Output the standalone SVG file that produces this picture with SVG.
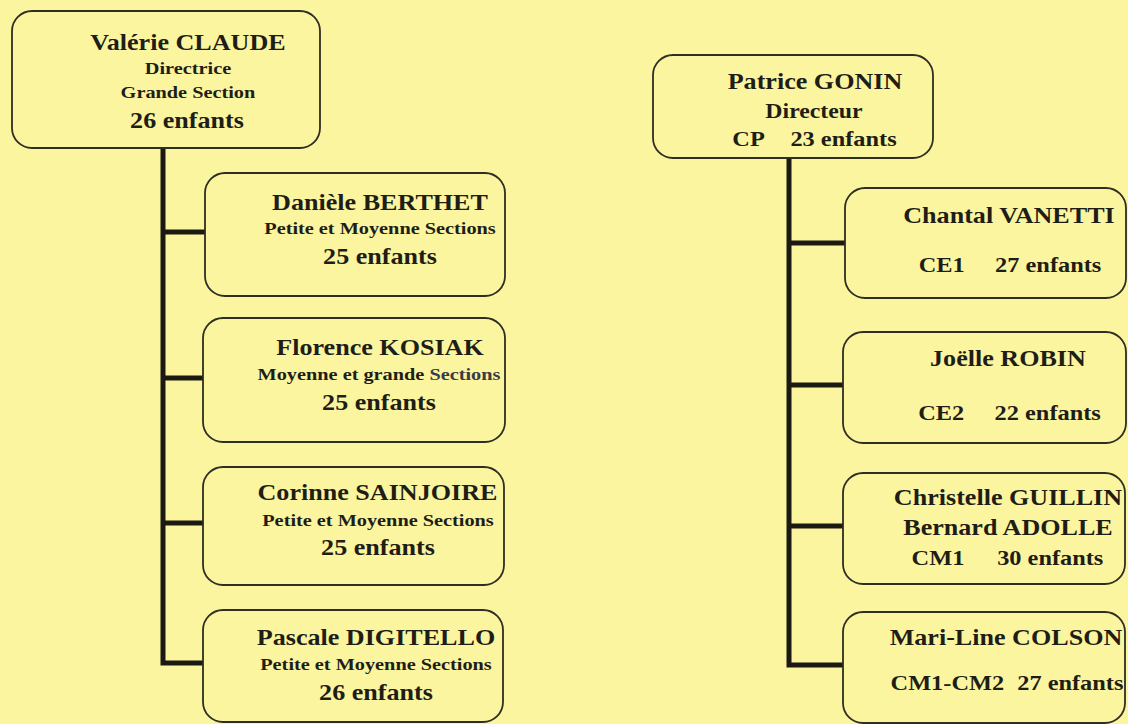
<svg xmlns="http://www.w3.org/2000/svg" width="1128" height="724" viewBox="0 0 1128 724">
<style>
.bg{fill:#fcf5a0}
.box{fill:#fcf5a0;stroke:#2e2e22;stroke-width:1.8}
.con{fill:none;stroke:#1a1a12;stroke-width:5;stroke-linejoin:miter}
text{font-family:"Liberation Serif","Times New Roman",serif;font-weight:bold;fill:#1e1e16;text-anchor:middle;transform-box:fill-box;transform-origin:center;transform:scaleX(1.16)}
.n{font-size:22.5px}
.s{font-size:17.5px}
.e{font-size:22.5px}
.d{font-size:20.5px}
.c{font-size:21px}
</style>
<rect class="bg" x="0" y="0" width="1128" height="724"/>
<g id="connectors">
<path class="con" d="M163 148 V663 H204"/>
<path class="con" d="M163 232 H206"/>
<path class="con" d="M163 378 H204"/>
<path class="con" d="M163 523 H204"/>
<path class="con" d="M789 158 V665 H844"/>
<path class="con" d="M789 243 H846"/>
<path class="con" d="M789 385 H844"/>
<path class="con" d="M789 526 H844"/>
</g>
<g id="valerie">
<rect class="box" x="12" y="11" width="308" height="137" rx="20"/>
<text class="n" x="188" y="50">Valérie CLAUDE</text>
<text class="s" x="188" y="74.5">Directrice</text>
<text class="s" x="188" y="98.5">Grande Section</text>
<text class="e" x="187" y="128">26 enfants</text>
</g>
<g id="daniele">
<rect class="box" x="205" y="173" width="300" height="123" rx="20"/>
<text class="n" x="380" y="210">Danièle BERTHET</text>
<text class="s" x="380" y="234">Petite et Moyenne Sections</text>
<text class="e" x="380" y="264">25 enfants</text>
</g>
<g id="florence">
<rect class="box" x="203" y="318" width="302" height="124" rx="20"/>
<text class="n" x="380" y="355">Florence KOSIAK</text>
<text class="s" x="379" y="380.5">Moyenne et grande <tspan fill="#3a3a48">Sections</tspan></text>
<text class="e" x="379" y="410">25 enfants</text>
</g>
<g id="corinne">
<rect class="box" x="203" y="467" width="301" height="118" rx="20"/>
<text class="n" x="377.5" y="500">Corinne SAINJOIRE</text>
<text class="s" x="378" y="526.5">Petite et Moyenne Sections</text>
<text class="e" x="378" y="555">25 enfants</text>
</g>
<g id="pascale">
<rect class="box" x="203" y="610" width="300" height="112" rx="20"/>
<text class="n" x="376" y="645">Pascale DIGITELLO</text>
<text class="s" x="376" y="670">Petite et Moyenne Sections</text>
<text class="e" x="376" y="700">26 enfants</text>
</g>
<g id="patrice">
<rect class="box" x="653" y="55" width="280" height="103" rx="20"/>
<text class="n" x="815" y="89">Patrice GONIN</text>
<text class="d" x="814" y="118">Directeur</text>
<text class="c" x="814.5" y="146">CP <tspan dx="18">23 enfants</tspan></text>
</g>
<g id="chantal">
<rect class="box" x="845" y="188" width="281" height="110" rx="20"/>
<text class="n" x="1009" y="223">Chantal VANETTI</text>
<text class="c" x="1010" y="272">CE1 <tspan dx="21">27 enfants</tspan></text>
</g>
<g id="joelle">
<rect class="box" x="843" y="332" width="283" height="111" rx="20"/>
<text class="n" x="1008" y="366">Joëlle ROBIN</text>
<text class="c" x="1009.5" y="420">CE2 <tspan dx="21">22 enfants</tspan></text>
</g>
<g id="christelle">
<rect class="box" x="843" y="473" width="282" height="111" rx="20"/>
<text class="n" x="1008" y="505">Christelle GUILLIN</text>
<text class="n" x="1008" y="535">Bernard ADOLLE</text>
<text class="c" x="1007.5" y="565">CM1 <tspan dx="23">30 enfants</tspan></text>
</g>
<g id="mariline">
<rect class="box" x="843" y="612" width="282" height="111" rx="20"/>
<text class="n" x="1006" y="645">Mari-Line COLSON</text>
<text class="c" x="1007" y="690">CM1-CM2 <tspan dx="6">27 enfants</tspan></text>
</g>
</svg>
